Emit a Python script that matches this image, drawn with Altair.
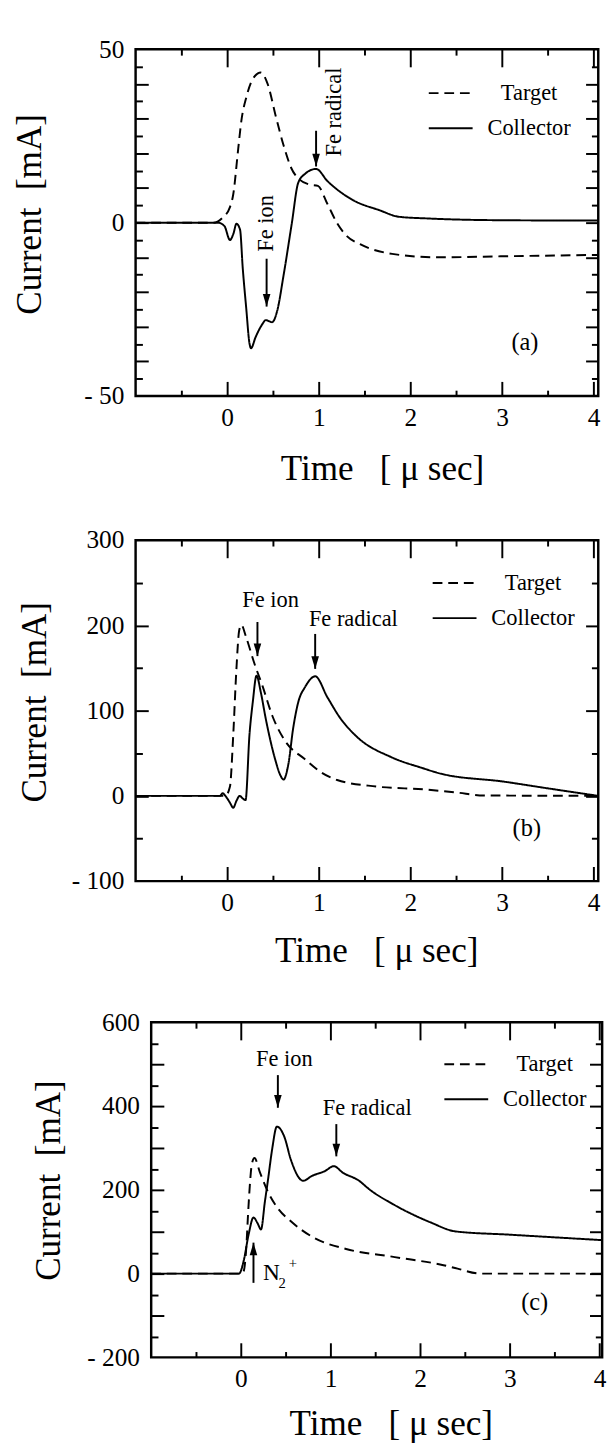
import altair as alt
import pandas as pd

FONT = "Liberation Serif, DejaVu Serif, Times New Roman, serif"
SERIES = ["Target", "Collector"]
DASHES = [[10, 6], [1, 0]]

# ---------------- panel (a) ----------------
a_target_t = [-1.0, -0.15, -0.06, 0.03, 0.066, 0.12, 0.154, 0.21, 0.28, 0.367, 0.44, 0.53, 0.615,
              0.70, 0.79, 0.90, 0.99, 1.094, 1.2, 1.306, 1.45, 1.8, 2.3, 3.0, 4.05]
a_target_i = [0.0, 0.0, 1.2, 4.5, 8.2, 21.3, 29.3, 36.3, 41.5, 43.3, 40.1, 30.7, 22.3,
              15.7, 12.4, 11.0, 10.6, 5.4, -0.2, -3.9, -6.2, -9.0, -10.0, -9.7, -9.3]
a_coll_t = [-1.0, -0.1, -0.03, 0.03, 0.07, 0.1, 0.14, 0.17, 0.207, 0.243, 0.26, 0.31, 0.385, 0.42,
            0.49, 0.545, 0.615, 0.705, 0.775, 0.846, 0.97, 1.094, 1.38, 1.66, 1.874, 2.2, 3.0, 4.05]
a_coll_i = [0.0, 0.0, -1.0, -5.0, -3.0, -0.3, -2.0, -13.3, -24.5, -34.8, -36.2, -33.0, -29.2, -28.1,
            -28.7, -25.5, -15.2, -0.2, 11.5, 14.0, 15.5, 12.0, 6.4, 3.6, 1.7, 1.2, 0.7, 0.6]
a_note_text = ["Fe ion", "Fe radical"]
a_note_t = [0.42, 1.17]
a_note_i = [-0.2, 31.9]
a_arrow_t = [0.43, 0.97]
a_arrow_from = [-10.4, 26.5]
a_arrow_to = [-24.2, 16.2]

# ---------------- panel (b) ----------------
b_target_t = [-1.0, -0.02, 0.03, 0.066, 0.10, 0.13, 0.154, 0.207, 0.296, 0.385, 0.49, 0.633,
              0.846, 1.02, 1.2, 1.625, 2.16, 2.5, 2.8, 4.05]
b_target_i = [0.0, 0.0, 11.0, 71.8, 148.0, 193.7, 200.6, 186.0, 155.6, 129.0, 94.6, 64.2,
              43.2, 28.0, 18.6, 11.0, 7.5, 4.0, 0.5, 0.0]
b_coll_t = [-1.0, -0.08, -0.05, -0.02, 0.03, 0.066, 0.1, 0.136, 0.17, 0.2, 0.243, 0.279, 0.32,
            0.367, 0.42, 0.473, 0.527, 0.58, 0.615, 0.668, 0.72, 0.78, 0.846, 0.96, 1.094, 1.236,
            1.41, 1.80, 2.12, 2.335, 3.02, 3.44, 4.05]
b_coll_i = [0.0, 0.0, 3.0, 0.0, -8.0, -14.0, -6.0, 0.0, -3.0, -5.0, 71.8, 110.0, 141.0,
            121.4, 90.9, 64.2, 41.4, 24.2, 19.2, 37.5, 79.4, 111.8, 127.0, 140.3, 115.6, 90.9,
            69.9, 45.0, 33.0, 26.0, 16.7, 9.8, 0.0]
b_note_text = ["Fe ion", "Fe radical"]
b_note_t = [0.473, 1.377]
b_note_i = [230.0, 207.0]
b_arrow_t = [0.33, 0.96]
b_arrow_from = [204.0, 190.0]
b_arrow_to = [164.0, 149.0]

# ---------------- panel (c) ----------------
c_target_t = [-1.0, 0.0, 0.03, 0.06, 0.08, 0.1, 0.123, 0.152, 0.214, 0.304, 0.413, 0.558,
              0.812, 1.174, 1.717, 2.26, 2.417, 2.675, 4.03]
c_target_i = [0.0, 0.0, 5.0, 60.0, 140.0, 210.0, 262.0, 276.0, 241.1, 194.6, 155.8, 124.9,
              86.0, 58.9, 39.5, 20.2, 12.0, 0.0, 0.0]
c_coll_t = [-1.0, -0.02, 0.033, 0.087, 0.141, 0.185, 0.225, 0.268, 0.304, 0.348, 0.402, 0.486,
            0.558, 0.696, 0.793, 0.938, 1.036, 1.138, 1.32, 1.427, 1.717, 2.116, 2.396, 3.0, 4.03]
c_coll_i = [0.0, 0.0, 31.8, 93.7, 134.0, 121.0, 105.4, 171.4, 225.6, 295.3, 351.0, 326.3,
            272.0, 221.7, 233.3, 244.9, 256.6, 241.0, 221.6, 202.3, 163.5, 122.4, 100.8, 93.0, 80.0]
c_note_text = ["Fe ion", "Fe radical"]
c_note_t = [0.486, 1.41]
c_note_i = [512.0, 396.0]
c_arrow_t = [0.413, 1.065]
c_arrow_from = [474.0, 357.0]
c_arrow_to = [396.0, 280.0]
c_up_t = [0.141]
c_up_from = [-22.0]
c_up_to = [74.0]
c_ion_t = [0.34]
c_ion_i = [2.0]

X_MAJOR = [0, 1, 2, 3, 4]
X_MINOR = [-0.5, 0.5, 1.5, 2.5, 3.5]
ARROW_DOWN = "M-0.6,-2L0,0L0.6,-2Z"
ARROW_UP = "M-0.6,2L0,0L0.6,2Z"
TICK_FS = 26
TITLE_FS = 36


def tick_axis(orient, offset, values, size):
    return alt.Axis(orient=orient, offset=offset, values=values, ticks=True, tickSize=size,
                    tickWidth=2, tickColor="black", labels=False, domain=False, grid=False,
                    title=None)


def panel(tag, tgt_t, tgt_i, col_t, col_i, W, H, xdom, ydom, ylabels, ymajor, yminor,
          ytitle_x, ytitle_y, xtitle_x, xtitle_y, leg_x, leg_y, leg_rowpad,
          note_text, note_t, note_i, note_angle, arr_t, arr_from, arr_to, tag_t, tag_i,
          up=None, ion=None):
    xs = alt.Scale(domain=xdom, nice=False, zero=False)
    ys = alt.Scale(domain=ydom, nice=False, zero=False)
    df = pd.concat([
        pd.DataFrame({"t": tgt_t, "I": tgt_i, "series": "Target"}),
        pd.DataFrame({"t": col_t, "I": col_i, "series": "Collector"}),
    ], ignore_index=True)

    x_label_axis = alt.Axis(
        orient="bottom", values=X_MAJOR, ticks=False, tickSize=0, domain=False, grid=False,
        labelFont=FONT, labelFontSize=TICK_FS, labelColor="black", labelPadding=9,
        labelFlush=False, labelOverlap=False, format="d",
        title="Time\u00a0\u00a0\u00a0[\u00a0\u03bc\u00a0sec]", titleFont=FONT, titleFontSize=TITLE_FS,
        titleFontWeight="normal", titleColor="black", titleX=xtitle_x, titleY=xtitle_y,
        titleBaseline="middle", titleAlign="center")
    y_label_axis = alt.Axis(
        orient="left", values=ylabels, ticks=False, tickSize=0, domain=False, grid=False,
        labelFont=FONT, labelFontSize=TICK_FS, labelColor="black", labelPadding=12,
        labelOverlap=False,
        labelExpr="datum.value < 0 ? '- ' + format(-datum.value, 'd') : format(datum.value, 'd')",
        title="Current\u00a0\u00a0[mA]", titleFont=FONT, titleFontSize=TITLE_FS,
        titleFontWeight="normal", titleColor="black", titleX=ytitle_x, titleY=ytitle_y,
        titleAngle=270, titleBaseline="middle", titleAlign="center")

    axis_specs = [
        (x_label_axis, y_label_axis),
        (tick_axis("top", -H, X_MAJOR, 15), tick_axis("right", -W, ymajor, 13)),
        (tick_axis("top", -H, X_MINOR, 6), tick_axis("right", -W, yminor, 7)),
        (tick_axis("bottom", -H, X_MAJOR, 18), tick_axis("left", -W, ymajor, 13)),
        (tick_axis("bottom", -H, X_MINOR, 6), tick_axis("left", -W, yminor, 7)),
    ]
    layers = [
        alt.Chart(df).mark_point(opacity=0).encode(
            x=alt.X("t:Q", scale=xs, axis=xa), y=alt.Y("I:Q", scale=ys, axis=ya))
        for xa, ya in axis_specs
    ]

    lines = alt.Chart(df).mark_line(color="black", strokeWidth=2, interpolate="monotone").encode(
        x=alt.X("t:Q", scale=xs, axis=None),
        y=alt.Y("I:Q", scale=ys, axis=None),
        strokeDash=alt.StrokeDash(
            "series:N", sort=SERIES,
            scale=alt.Scale(domain=SERIES, range=DASHES),
            legend=alt.Legend(orient="none", legendX=leg_x, legendY=leg_y, title=None,
                              direction="vertical", symbolType="stroke", symbolSize=2025,
                              symbolStrokeWidth=2, symbolStrokeColor="black",
                              labelFont=FONT, labelFontSize=23, labelColor="black",
                              labelAlign="center", labelOffset=57, rowPadding=leg_rowpad,
                              padding=0)),
    )
    layers.append(lines)

    notes = pd.DataFrame({"t": note_t, "I": note_i, "label": note_text})
    layers.append(alt.Chart(notes).mark_text(font=FONT, fontSize=23, color="black", angle=note_angle,
                                             align="center", baseline="middle").encode(
        x=alt.X("t:Q", scale=xs, axis=None), y=alt.Y("I:Q", scale=ys, axis=None), text="label:N"))

    arrows = pd.DataFrame({"t": arr_t, "I0": arr_from, "I1": arr_to})
    layers.append(alt.Chart(arrows).mark_rule(color="black", strokeWidth=2).encode(
        x=alt.X("t:Q", scale=xs, axis=None), y=alt.Y("I0:Q", scale=ys, axis=None), y2="I1:Q"))
    layers.append(alt.Chart(arrows).mark_point(shape=ARROW_DOWN, size=169, filled=True, color="black",
                                               opacity=1).encode(
        x=alt.X("t:Q", scale=xs, axis=None), y=alt.Y("I1:Q", scale=ys, axis=None)))

    if up is not None:
        ups = pd.DataFrame({"t": up[0], "I0": up[1], "I1": up[2]})
        layers.append(alt.Chart(ups).mark_rule(color="black", strokeWidth=2).encode(
            x=alt.X("t:Q", scale=xs, axis=None), y=alt.Y("I0:Q", scale=ys, axis=None), y2="I1:Q"))
        layers.append(alt.Chart(ups).mark_point(shape=ARROW_UP, size=169, filled=True, color="black",
                                                opacity=1).encode(
            x=alt.X("t:Q", scale=xs, axis=None), y=alt.Y("I1:Q", scale=ys, axis=None)))
    if ion is not None:
        ions = pd.DataFrame({"t": ion[0], "I": ion[1]})
        for txt, fs, dx, dy in [("N", 24, 0, 0), ("2", 15, 11, 11), ("+", 15, 22, -10)]:
            layers.append(alt.Chart(ions).mark_text(text=txt, font=FONT, fontSize=fs, color="black",
                                                    dx=dx, dy=dy, align="center",
                                                    baseline="middle").encode(
                x=alt.X("t:Q", scale=xs, axis=None), y=alt.Y("I:Q", scale=ys, axis=None)))

    tagdf = pd.DataFrame({"t": [tag_t], "I": [tag_i], "label": [tag]})
    layers.append(alt.Chart(tagdf).mark_text(font=FONT, fontSize=25, color="black",
                                             align="center", baseline="middle").encode(
        x=alt.X("t:Q", scale=xs, axis=None), y=alt.Y("I:Q", scale=ys, axis=None), text="label:N"))

    return alt.layer(*layers).properties(width=W, height=H)


pa = panel("(a)", a_target_t, a_target_i, a_coll_t, a_coll_i, 475, 356, [-1.0, 4.05], [-50, 50],
           [-50, 0, 50], [-40, -30, -20, -10, 0, 10, 20, 30, 40],
           [-45, -35, -25, -15, -5, 5, 15, 25, 35, 45],
           -109, 169, 253, 75, 300, 21.5, 0,
           a_note_text, a_note_t, a_note_i, 270, a_arrow_t, a_arrow_from, a_arrow_to, 3.25, -34.5)

pb = panel("(b)", b_target_t, b_target_i, b_coll_t, b_coll_i, 475, 350, [-1.0, 4.05], [-100, 300],
           [-100, 0, 100, 200, 300], [0, 100, 200], [-50, 50, 150, 250],
           -104, 166, 247, 72, 304, 20.5, 0,
           b_note_text, b_note_t, b_note_i, 0, b_arrow_t, b_arrow_from, b_arrow_to, 3.27, -38)

pc = panel("(c)", c_target_t, c_target_i, c_coll_t, c_coll_i, 463, 344, [-1.0, 4.03], [-200, 600],
           [-200, 0, 200, 400, 600], [-100, 0, 100, 200, 300, 400, 500],
           [-150, -50, 50, 150, 250, 350, 450, 550],
           -105, 162, 246, 68, 300, 19.5, 0,
           c_note_text, c_note_t, c_note_i, 0, c_arrow_t, c_arrow_from, c_arrow_to, 3.277, -69,
           up=(c_up_t, c_up_from, c_up_to), ion=(c_ion_t, c_ion_i))

spacer = alt.Chart(pd.DataFrame({"v": [0]})).mark_point(opacity=0, size=1).encode(
    x=alt.value(0), y=alt.value(0)).properties(
    width=1, height=344, view=alt.ViewBackground(strokeOpacity=0, strokeWidth=0))

row_c = alt.hconcat(spacer, pc, spacing=-110).resolve_scale(strokeDash="independent")

chart = alt.vconcat(pa, pb, row_c, spacing=38).resolve_scale(strokeDash="independent").properties(
    padding={"left": 2, "top": 8, "right": 0, "bottom": 0}
).configure(font=FONT).configure_view(stroke="black", strokeWidth=2.5)

chart.save("out.html", embed_options={"renderer": "svg", "actions": False})
